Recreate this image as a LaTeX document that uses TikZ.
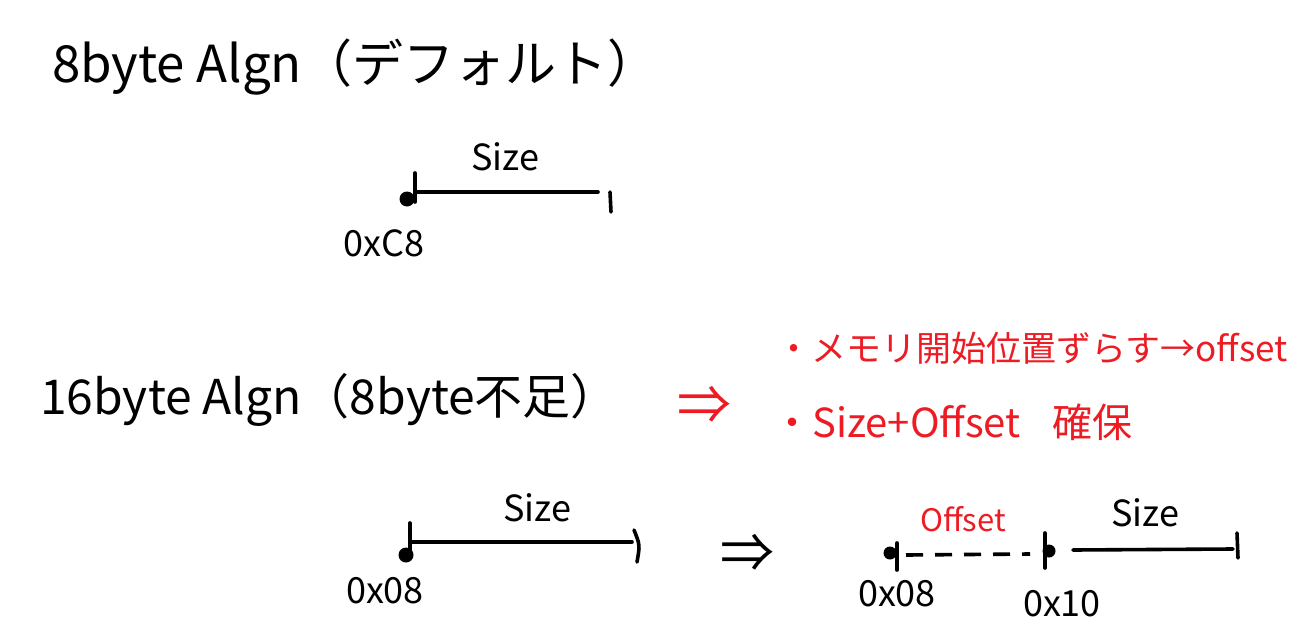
\documentclass[tikz,border=0pt]{standalone}
\usepackage{fontspec}
\setmainfont{Noto Sans CJK JP}
\definecolor{pen}{RGB}{237,28,36}
\begin{document}
\begin{tikzpicture}[x=1pt,y=-1pt,
  stroke/.style={line width=3.6pt, line cap=round},
  dot/.style={circle, fill=black, inner sep=0pt, minimum size=15pt},
  title/.style={font=\fontsize{51}{55}\selectfont, inner sep=0pt},
  note/.style={font=\fontsize{35}{39}\selectfont, text=pen, inner sep=0pt},
  lbl/.style={font=\fontsize{36}{40}\selectfont, inner sep=0pt},
  arr/.style={font=\fontsize{54}{58}\selectfont, inner sep=0pt}]
\useasboundingbox[fill=white] (0,0) rectangle (1307,637);

% titles
\node[title, anchor=west] (t1) at (52,67) {8byte Algn（デフォルト）};
\node[title, anchor=west, font=\fontsize{48}{52}\selectfont] (t2) at (40,400) {16byte Algn（8byte不足）};

% red arrow and notes
\node[arr, text=pen] (ra) at (704,405) {⇒};
\node[note, anchor=west] (n1) at (776,348) {・メモリ開始位置ずらす→offset};
\node[note, anchor=west, font=\fontsize{40}{44}\selectfont] (n2) at (772,422) {・Size+Offset\hspace{0.8em}確保};

% top diagram
\node[dot] (a0) at (407,199) {};
\coordinate (a1) at (415,192);
\coordinate (a2) at (598,192);
\coordinate (a1t) at (415,173);
\coordinate (a1b) at (415,202);
\coordinate (a3t) at (610,192);
\coordinate (a3b) at (611,212);
\draw[stroke] (a1) -- (a2);
\draw[stroke] (a1t) -- (a1b);
\draw[stroke] (a3t) -- (a3b);
\node[lbl] (s1) at (505,157) {Size};
\node[lbl] (h1) at (384,243) {0xC8};

% bottom-left diagram
\node[dot] (b0) at (406,555) {};
\coordinate (b1) at (410,542);
\coordinate (b2) at (632,542);
\coordinate (b1t) at (410,523);
\coordinate (b1b) at (410,550);
\coordinate (b3t) at (634,530);
\coordinate (b3b) at (637,562);
\draw[stroke] (b1) -- (b2);
\draw[stroke] (b1t) -- (b1b);
\draw[stroke] (b3t) .. controls (640,545) .. (b3b);
\node[lbl] (s2) at (537,508) {Size};
\node[lbl] (h2) at (385,591) {0x08};

% black arrow
\node[arr] (ba) at (747,553) {⇒};

% bottom-right diagram
\node[dot, minimum size=13pt] (c0) at (890,553) {};
\coordinate (c0t) at (897,543);
\coordinate (c0b) at (897,570);
\draw[stroke] (c0t) -- (c0b);
\node[dot, minimum size=13pt] (c1) at (1049,551) {};
\coordinate (c1t) at (1045,533);
\coordinate (c1b) at (1045,568);
\draw[stroke] (c1t) -- (c1b);
\coordinate (d0) at (906,555);
\coordinate (d1) at (1030,554);
\draw[stroke, line cap=butt, dash pattern=on 17pt off 12pt] (d0) -- (d1);
\coordinate (e0) at (1073,550);
\coordinate (e1) at (1233,549);
\draw[stroke] (e0) -- (e1);
\coordinate (e2t) at (1237,533);
\coordinate (e2b) at (1238,558);
\draw[stroke] (e2t) -- (e2b);
\node[lbl, font=\fontsize{31}{35}\selectfont, text=pen] (o1) at (963,519) {Offset};
\node[lbl] (s3) at (1145,513) {Size};
\node[lbl] (h3) at (897,594) {0x08};
\node[lbl] (h4) at (1062,604) {0x10};
\end{tikzpicture}
\end{document}
